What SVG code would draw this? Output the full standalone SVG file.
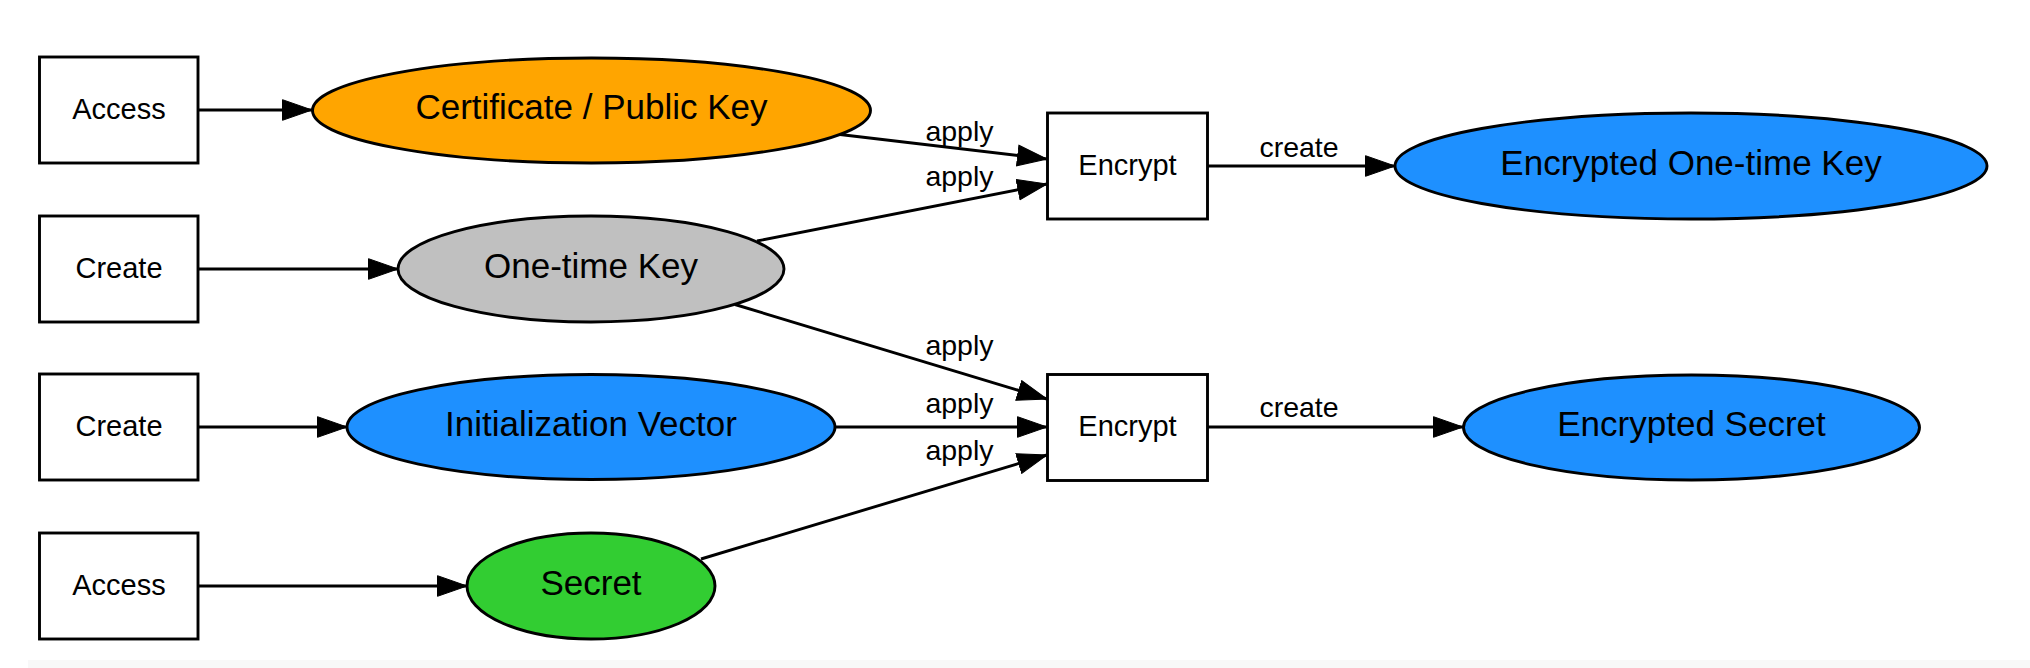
<svg xmlns="http://www.w3.org/2000/svg" width="2030" height="668" viewBox="0 0 2030 668">
<style>
.box{fill:#ffffff;stroke:#000000;stroke-width:2.9}
.ell{stroke:#000000;stroke-width:2.9}
.e{fill:none;stroke:#000000;stroke-width:2.9}
.bt{font-family:"Liberation Sans",Arial,sans-serif;font-size:29px;text-anchor:middle;fill:#000000}
.nt{font-family:"Liberation Sans",Arial,sans-serif;font-size:35px;text-anchor:middle;fill:#000000}
.lt{font-family:"Liberation Sans",Arial,sans-serif;font-size:28.5px;text-anchor:middle;fill:#000000}
</style>
<defs>
<marker id="arr" markerUnits="userSpaceOnUse" markerWidth="32" markerHeight="24" viewBox="0 0 32 24" refX="30" refY="12" orient="auto">
<path d="M0.5,1.7 L30,12 L0.5,22.3 Z" fill="#000000" stroke="#000000" stroke-width="1"/>
</marker>
</defs>
<rect x="0" y="0" width="2030" height="668" fill="#ffffff"/>
<rect x="28" y="660" width="2002" height="8" fill="#f8f8f8"/>
<g id="connectors">
<line class="e" x1="198" y1="110" x2="312" y2="110" marker-end="url(#arr)"/>
<line class="e" x1="198" y1="269" x2="398" y2="269" marker-end="url(#arr)"/>
<line class="e" x1="198" y1="427" x2="347" y2="427" marker-end="url(#arr)"/>
<line class="e" x1="198" y1="586" x2="467" y2="586" marker-end="url(#arr)"/>
<line class="e" x1="840" y1="134.5" x2="1047" y2="159" marker-end="url(#arr)"/>
<line class="e" x1="757" y1="241" x2="1047" y2="184" marker-end="url(#arr)"/>
<line class="e" x1="735" y1="304.5" x2="1047" y2="399" marker-end="url(#arr)"/>
<line class="e" x1="835" y1="427" x2="1047" y2="427" marker-end="url(#arr)"/>
<line class="e" x1="701" y1="559" x2="1047" y2="455" marker-end="url(#arr)"/>
<line class="e" x1="1207" y1="166" x2="1395" y2="166" marker-end="url(#arr)"/>
<line class="e" x1="1207" y1="427" x2="1463" y2="427" marker-end="url(#arr)"/>
<text class="lt" x="959.5" y="140.5">apply</text>
<text class="lt" x="959.5" y="186">apply</text>
<text class="lt" x="959.5" y="355">apply</text>
<text class="lt" x="959.5" y="413">apply</text>
<text class="lt" x="959.5" y="460">apply</text>
<text class="lt" x="1299" y="157">create</text>
<text class="lt" x="1299" y="417">create</text>
</g>
<g id="access1"><rect class="box" x="39.5" y="57" width="158.5" height="106"/><text class="bt" x="119" y="119">Access</text></g>
<g id="create1"><rect class="box" x="39.5" y="216" width="158.5" height="106"/><text class="bt" x="119" y="278">Create</text></g>
<g id="create2"><rect class="box" x="39.5" y="374" width="158.5" height="106"/><text class="bt" x="119" y="436">Create</text></g>
<g id="access2"><rect class="box" x="39.5" y="533" width="158.5" height="106"/><text class="bt" x="119" y="595">Access</text></g>
<g id="cert"><ellipse class="ell" fill="#ffa500" cx="591.5" cy="110.5" rx="279" ry="52.5"/><text class="nt" x="591.5" y="119">Certificate / Public Key</text></g>
<g id="otk"><ellipse class="ell" fill="#c0c0c0" cx="591" cy="269" rx="193" ry="53"/><text class="nt" x="591" y="277.5">One-time Key</text></g>
<g id="iv"><ellipse class="ell" fill="#1e90ff" cx="591" cy="427" rx="244" ry="52.5"/><text class="nt" x="591" y="435.5">Initialization Vector</text></g>
<g id="secret"><ellipse class="ell" fill="#32cd32" cx="591" cy="586" rx="124" ry="53"/><text class="nt" x="591" y="594.5">Secret</text></g>
<g id="encrypt1"><rect class="box" x="1047.5" y="113" width="160" height="106"/><text class="bt" x="1127.5" y="175">Encrypt</text></g>
<g id="encrypt2"><rect class="box" x="1047.5" y="374.5" width="160" height="106"/><text class="bt" x="1127.5" y="436">Encrypt</text></g>
<g id="eotk"><ellipse class="ell" fill="#1e90ff" cx="1691" cy="166" rx="296" ry="53"/><text class="nt" x="1691" y="174.5">Encrypted One-time Key</text></g>
<g id="esecret"><ellipse class="ell" fill="#1e90ff" cx="1691.5" cy="427.5" rx="228" ry="52.5"/><text class="nt" x="1691.5" y="436">Encrypted Secret</text></g>
</svg>
